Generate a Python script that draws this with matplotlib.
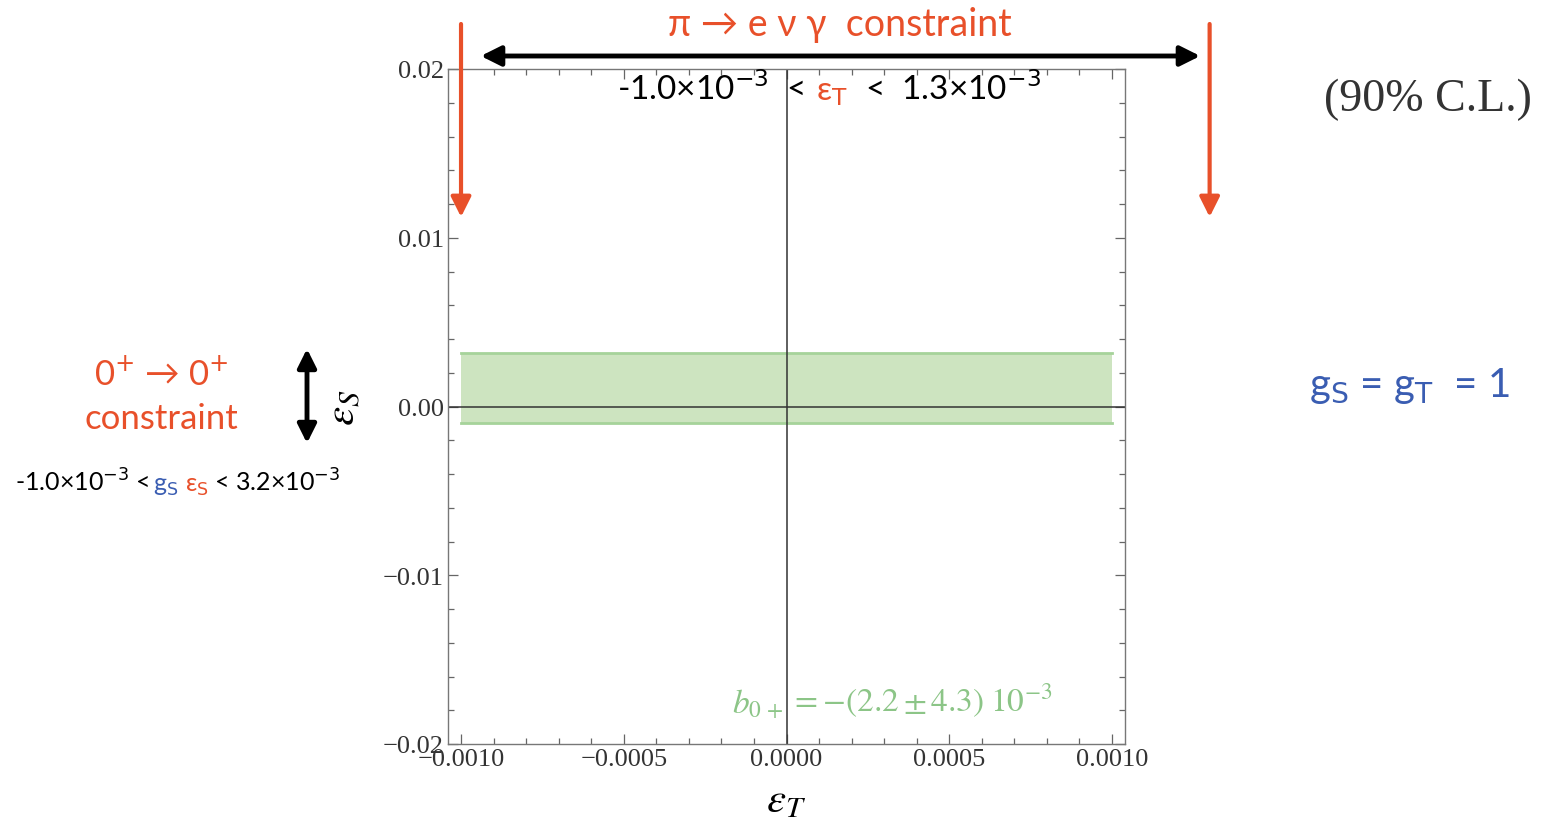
import numpy as np
import matplotlib
matplotlib.use("Agg")
import matplotlib.pyplot as plt
from matplotlib.ticker import MultipleLocator, FuncFormatter
import matplotlib.transforms as mtransforms

# limites (90% C.L.)
ET_LO, ET_HI = -1.0e-3, 1.3e-3      # pi -> e nu gamma
GS_LO, GS_HI = -1.0e-3, 3.2e-3      # 0+ -> 0+
ET_DOMAIN = [-1.0e-3, 1.0e-3]
XLIM = (-1.04e-3, 1.04e-3)
YLIM = (-0.02, 0.02)

RED = "#E8502A"
BLUE = "#3A5DB2"
GREEN_TXT = "#8CC587"
SANS = ["Lato", "Open Sans", "DejaVu Sans"]
SERIF = ["Liberation Serif", "DejaVu Serif"]

W, H = 1543, 828
fig = plt.figure(figsize=(W / 100, H / 100), dpi=100)
ax = fig.add_axes([448 / W, 83 / H, 677 / W, 675 / H])

def fp(x, y):
    # pixel de la imagen -> fraccion de figura
    return (x / W, 1 - y / H)

# banda permitida
ax.fill_between(ET_DOMAIN, GS_LO, GS_HI, color="#CDE4C0", lw=0)
ax.plot(ET_DOMAIN, [GS_HI, GS_HI], color="#A6D39A", lw=2)
ax.plot(ET_DOMAIN, [GS_LO, GS_LO], color="#A6D39A", lw=2)

ax.axhline(0, color="#333333", lw=1.1)
ax.axvline(0, color="#333333", lw=1.1)

ax.set_xlim(*XLIM)
ax.set_ylim(*YLIM)
ax.xaxis.set_major_locator(MultipleLocator(5e-4))
ax.xaxis.set_minor_locator(MultipleLocator(1e-4))
ax.yaxis.set_major_locator(MultipleLocator(0.01))
ax.yaxis.set_minor_locator(MultipleLocator(0.002))
ax.xaxis.set_major_formatter(FuncFormatter(lambda v, p: f"{v:.4f}".replace("-", "\u2212") if abs(v) > 1e-12 else "0.0000"))
ax.yaxis.set_major_formatter(FuncFormatter(lambda v, p: f"{v:.2f}".replace("-", "\u2212") if abs(v) > 1e-12 else "0.00"))
ax.tick_params(which="both", direction="in", top=True, right=True, color="#666666", width=0.9)
ax.tick_params(which="major", length=7, labelsize=19, labelcolor="#333333", pad=3)
ax.tick_params(which="minor", length=4)
for lab in ax.get_xticklabels() + ax.get_yticklabels():
    lab.set_family(SERIF)
for s in ax.spines.values():
    s.set_color("#777777")
    s.set_linewidth(1.0)

ax.set_xlabel(r"$\varepsilon_T$", fontsize=31, math_fontfamily="stix", labelpad=6)
ax.set_ylabel(r"$\varepsilon_S$", fontsize=31, math_fontfamily="stix", labelpad=14)

ax.text(-0.00001, -0.0176, r"$b_{0\,+}$", color=GREEN_TXT, fontsize=24, ha="right",
        va="center", math_fontfamily="stix")
ax.text(0.00001, -0.0174, r"$= -(2.2 \pm 4.3)\;10^{-3}$", color=GREEN_TXT, fontsize=24,
        ha="left", va="center", math_fontfamily="stix")

# flechas
blend = mtransforms.blended_transform_factory(ax.transData, fig.transFigure)
for xv in (ET_LO, ET_HI):
    ax.annotate("", xy=(xv, fp(0, 218)[1]), xycoords=blend,
                xytext=(xv, fp(0, 25)[1]), textcoords=blend,
                arrowprops=dict(arrowstyle="-|>", color=RED, lw=3, mutation_scale=30,
                                shrinkA=0, shrinkB=0), annotation_clip=False)

fig.add_artist(matplotlib.patches.FancyArrowPatch(fp(478, 57), fp(1203, 57), transform=fig.transFigure,
               arrowstyle="<|-|>", color="black", lw=3.5, mutation_scale=30))
fig.add_artist(matplotlib.patches.FancyArrowPatch(fp(307, 347), fp(307, 447), transform=fig.transFigure,
               arrowstyle="<|-|>", color="black", lw=3.5, mutation_scale=28))

renderer = fig.canvas.get_renderer()

def rainbow(x0, y0, pieces, size, ha="left"):
    texts = []
    x = x0
    for s, c in pieces:
        t = fig.text(*fp(x, y0), s, color=c, fontsize=size, family=SANS,
                     va="baseline", ha="left", math_fontfamily="dejavusans")
        x += t.get_window_extent(renderer).width
        texts.append(t)
    if ha == "center":
        shift = (x - x0) / 2
        for t in texts:
            px, py = t.get_position()
            t.set_position((px - shift / W, py))
    return texts

rainbow(840, 36, [("\u03c0 \u2192 e \u03bd \u03b3  constraint", RED)], 27, ha="center")
rainbow(829, 100, [("-1.0\u00d710$^{-3}$  <  ", "black"), ("\u03b5$_{\\mathrm{T}}$", RED),
                   ("  <  1.3\u00d710$^{-3}$", "black")], 24, ha="center")
rainbow(161, 385, [("0$^{+}$ \u2192 0$^{+}$", RED)], 25, ha="center")
rainbow(161, 429, [("constraint", RED)], 25, ha="center")
rainbow(178, 492, [("-1.0\u00d710$^{-3}$ < ", "black"), ("g$_{\\mathrm{S}}$", BLUE), (" ", "black"),
                   ("\u03b5$_{\\mathrm{S}}$", RED), (" < 3.2\u00d710$^{-3}$", "black")], 18, ha="center")
rainbow(1409, 397, [("g$_{\\mathrm{S}}$ = g$_{\\mathrm{T}}$  = 1", BLUE)], 29, ha="center")

fig.text(*fp(1428, 100), "(90% C.L.)", fontsize=33, family=SERIF, color="#333333",
         ha="center", va="center")

fig.savefig("out.png", dpi=100)
